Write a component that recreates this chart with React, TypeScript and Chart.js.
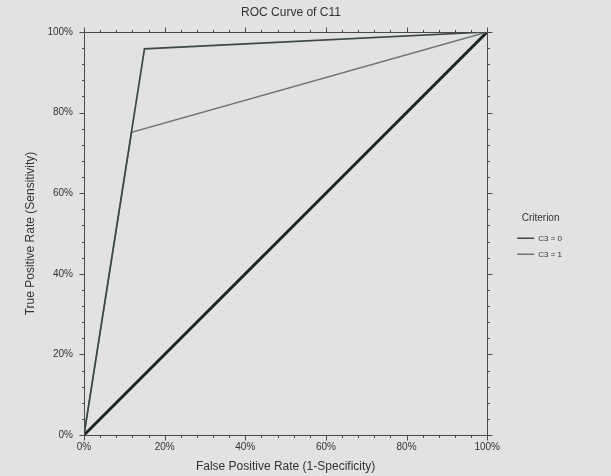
import React, { useEffect, useRef } from "react";
import { Chart, registerables } from "chart.js";

Chart.register(...registerables);

// ---- data ----
const CHART_TITLE = "ROC Curve of C11";
const X_TITLE = "False Positive Rate (1-Specificity)";
const Y_TITLE = "True Positive Rate (Sensitivity)";
const LEGEND_TITLE = "Criterion";
const seriesNames = ["C3 = 0", "C3 = 1"];
const fprC30 = [0, 15.0, 100];
const tprC30 = [0, 95.8, 100];
const fprC31 = [0, 11.8, 100];
const tprC31 = [0, 75.1, 100];
const diagX = [0, 100];
const diagY = [0, 100];
const MAJOR_STEP = 20;
const MINOR_STEP = 4;

const BG = "#e2e2e2";
const TEXT = "#333333";
const AXIS = "#4a4a4a";
const FONT = "'Liberation Sans', Arial, sans-serif";

const toPoints = (xs: number[], ys: number[]) => xs.map((x, i) => ({ x, y: ys[i] }));

const bgPlugin = {
  id: "bgFill",
  beforeDraw(chart: any) {
    const { ctx, width, height } = chart;
    ctx.save();
    ctx.fillStyle = BG;
    ctx.fillRect(0, 0, width, height);
    ctx.restore();
  },
};

const boxTicksPlugin = {
  id: "boxTicks",
  afterDatasetsDraw(chart: any) {
    const { ctx, chartArea, scales } = chart;
    const { left, right, top, bottom } = chartArea;
    const xs = scales.x;
    const ys = scales.y;
    ctx.save();
    ctx.strokeStyle = AXIS;
    ctx.lineWidth = 1;
    ctx.beginPath();
    const L = Math.round(left) + 0.5;
    const R = Math.round(right) + 0.5;
    const T = Math.round(top) + 0.5;
    const B = Math.round(bottom) + 0.5;
    ctx.rect(L, T, R - L, B - T);
    for (let v = 0; v <= 100; v += MINOR_STEP) {
      const major = v % MAJOR_STEP === 0;
      const len = major ? 5 : 2.5;
      const px = Math.round(xs.getPixelForValue(v)) + 0.5;
      ctx.moveTo(px, B);
      ctx.lineTo(px, B + len);
      ctx.moveTo(px, T);
      ctx.lineTo(px, T - len);
      const py = Math.round(ys.getPixelForValue(v)) + 0.5;
      ctx.moveTo(L, py);
      ctx.lineTo(L - len, py);
      ctx.moveTo(R, py);
      ctx.lineTo(R + len, py);
    }
    ctx.stroke();
    ctx.restore();
  },
};

export default function App() {
  const ref = useRef<HTMLCanvasElement | null>(null);

  useEffect(() => {
    document.body.style.margin = "0";
    document.body.style.background = BG;
    const canvas = ref.current;
    if (!canvas) return;
    const colors = ["#3d4747", "#6c7474"];
    const chart = new Chart(canvas, {
      type: "line",
      data: {
        datasets: [
          {
            label: seriesNames[0],
            data: toPoints(fprC30, tprC30),
            borderColor: colors[0],
            backgroundColor: colors[0],
            borderWidth: 1.7,
            pointRadius: 0,
            tension: 0,
          },
          {
            label: seriesNames[1],
            data: toPoints(fprC31, tprC31),
            borderColor: colors[1],
            backgroundColor: colors[1],
            borderWidth: 1.4,
            pointRadius: 0,
            tension: 0,
          },
          {
            label: "reference",
            data: toPoints(diagX, diagY),
            borderColor: "#1b2626",
            backgroundColor: "#1b2626",
            borderWidth: 3,
            pointRadius: 0,
            tension: 0,
          },
        ],
      },
      options: {
        animation: false,
        responsive: false,
        devicePixelRatio: 1,
        layout: { padding: { left: 10, right: 39, top: 0, bottom: 0 } },
        scales: {
          x: {
            type: "linear",
            min: 0,
            max: 100,
            grid: { display: false, drawTicks: false },
            border: { display: false },
            ticks: {
              stepSize: MAJOR_STEP,
              padding: 6,
              color: TEXT,
              font: { family: FONT, size: 10 },
              callback: (v: any) => v + "%",
            },
            title: {
              display: true,
              text: X_TITLE,
              color: TEXT,
              font: { family: FONT, size: 12 },
              padding: { top: 7, bottom: 2 },
            },
            afterFit: (s: any) => {
              s.height = 41;
            },
          },
          y: {
            type: "linear",
            min: 0,
            max: 100,
            grid: { display: false, drawTicks: false },
            border: { display: false },
            ticks: {
              stepSize: MAJOR_STEP,
              padding: 11,
              color: TEXT,
              font: { family: FONT, size: 10 },
              callback: (v: any) => v + "%",
            },
            title: {
              display: true,
              text: Y_TITLE,
              color: TEXT,
              font: { family: FONT, size: 12 },
              padding: { top: 13.8, bottom: 9 },
            },
            afterFit: (s: any) => {
              s.width = 74;
            },
          },
          y2: {
            type: "linear",
            position: "right",
            display: true,
            min: 0,
            max: 100,
            grid: { display: false, drawTicks: false },
            border: { display: false },
            ticks: { display: false },
            afterFit: (s: any) => {
              s.width = 22;
            },
          },
        },
        plugins: {
          title: {
            display: true,
            text: CHART_TITLE,
            color: TEXT,
            font: { family: FONT, size: 12, weight: "normal" },
            padding: { top: 5, bottom: 12.6 },
          },
          legend: {
            display: true,
            position: "right",
            align: "center",
            title: {
              display: true,
              text: LEGEND_TITLE,
              color: TEXT,
              font: { family: FONT, size: 10 },
              padding: { top: 3.3, bottom: 1.3 },
            },
            labels: {
              color: TEXT,
              font: { family: FONT, size: 8 },
              boxWidth: 17,
              boxHeight: 1.5,
              padding: 8,
              filter: (item: any) => item.datasetIndex < seriesNames.length,
              generateLabels: (ch: any) =>
                ch.data.datasets.map((ds: any, i: number) => ({
                  text: ds.label,
                  fillStyle: ds.borderColor,
                  strokeStyle: ds.borderColor,
                  lineWidth: 0,
                  hidden: false,
                  datasetIndex: i,
                  fontColor: TEXT,
                })),
            },
          },
          tooltip: { enabled: false },
        },
      },
      plugins: [bgPlugin, boxTicksPlugin],
    } as any);
    return () => chart.destroy();
  }, []);

  return (
    <div style={{ position: "fixed", left: 0, top: 0, width: 611, height: 476, background: BG }}>
      <canvas ref={ref} width={611} height={476} style={{ display: "block" }} />
    </div>
  );
}
